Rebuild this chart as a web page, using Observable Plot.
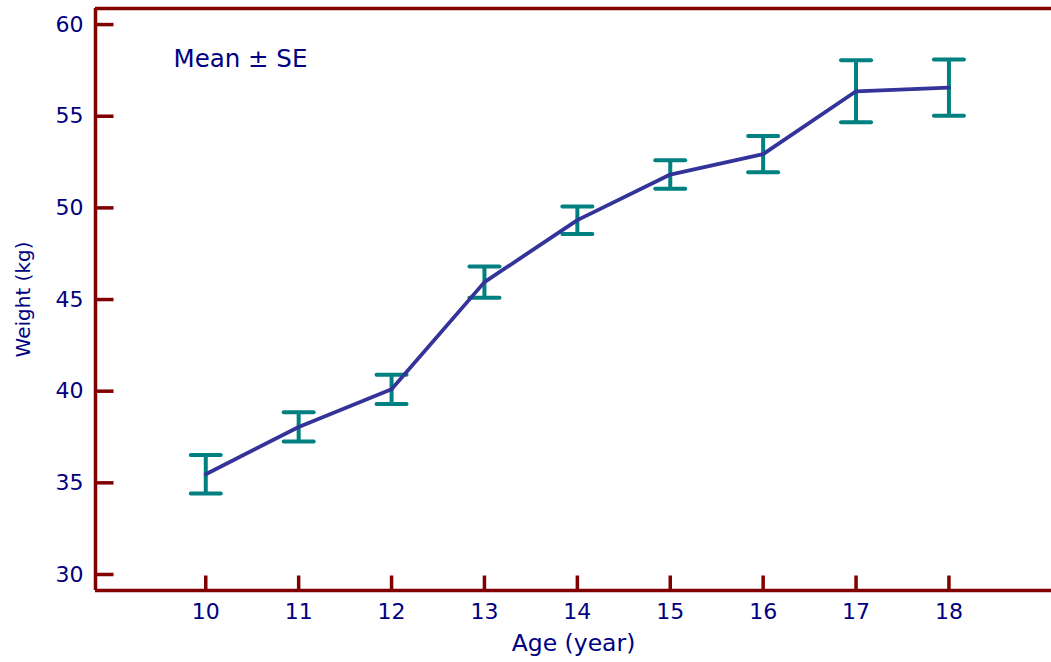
<!DOCTYPE html>
<html>
<head>
<meta charset="utf-8">
<script src="https://cdn.jsdelivr.net/npm/d3@7"></script>
<script src="https://cdn.jsdelivr.net/npm/@observablehq/plot@0.6"></script>
<style>
  html, body { margin: 0; padding: 0; background: #fff; }
</style>
</head>
<body>
<div id="chart"></div>
<script>
const ages = [10, 11, 12, 13, 14, 15, 16, 17, 18];
const means = [35.47, 38.05, 40.1, 45.95, 49.33, 51.82, 52.93, 56.36, 56.56];
const ses = [1.05, 0.8, 0.8, 0.85, 0.75, 0.78, 0.99, 1.69, 1.53];
const xTicks = [10, 11, 12, 13, 14, 15, 16, 17, 18];
const yTicks = [30, 35, 40, 45, 50, 55, 60];
const xDomain = [8.813, 19.104];
const yDomain = [29.127, 60.877];

const data = ages.map((a, i) => ({age: a, mean: means[i], se: ses[i]}));

const frameColor = "#800000";
const textColor = "#000080";
const barColor = "#008080";
const lineColor = "#333399";
const font = "'DejaVu Sans', 'Liberation Sans', Arial, sans-serif";

const vTick = {draw(ctx) { ctx.moveTo(0, 0); ctx.lineTo(0, -15); }};
const hTick = {draw(ctx) { ctx.moveTo(0, 0); ctx.lineTo(18, 0); }};
const cap = {draw(ctx) { ctx.moveTo(-15, 0); ctx.lineTo(15, 0); }};

const chart = Plot.plot({
  width: 1051,
  height: 662,
  marginLeft: 95,
  marginTop: 8,
  marginBottom: 72,
  marginRight: 0,
  style: {color: textColor, fontFamily: font, background: "#fff", overflow: "visible"},
  x: {domain: xDomain, axis: null},
  y: {domain: yDomain, axis: null},
  marks: [
    Plot.axisX({ticks: xTicks, tickSize: 0, tickPadding: 13, fontSize: 22, label: null, tickFormat: d => String(d)}),
    Plot.axisY({ticks: yTicks, tickSize: 0, tickPadding: 12, fontSize: 22, label: null, tickFormat: d => String(d)}),
    Plot.ruleX([xDomain[0]], {stroke: frameColor, strokeWidth: 3.5}),
    Plot.ruleY([yDomain[0], yDomain[1]], {stroke: frameColor, strokeWidth: 3.5}),
    Plot.dot(xTicks, {x: d => d, y: () => yDomain[0], symbol: vTick, r: 1, stroke: frameColor, strokeWidth: 3.5, fill: "none"}),
    Plot.dot(yTicks, {y: d => d, x: () => xDomain[0], symbol: hTick, r: 1, stroke: frameColor, strokeWidth: 3.5, fill: "none"}),
    Plot.ruleX(data, {x: "age", y1: d => d.mean - d.se, y2: d => d.mean + d.se, stroke: barColor, strokeWidth: 4}),
    Plot.dot(data, {x: "age", y: d => d.mean + d.se, symbol: cap, r: 1, stroke: barColor, strokeWidth: 4, strokeLinecap: "round", fill: "none"}),
    Plot.dot(data, {x: "age", y: d => d.mean - d.se, symbol: cap, r: 1, stroke: barColor, strokeWidth: 4, strokeLinecap: "round", fill: "none"}),
    Plot.line(data, {x: "age", y: "mean", stroke: lineColor, strokeWidth: 3.8}),
    Plot.text(["Mean \u00b1 SE"], {frameAnchor: "top-left", textAnchor: "start", lineAnchor: "middle", dx: 78, dy: 51, fontSize: 24.5, fill: textColor}),
    Plot.text(["Age (year)"], {frameAnchor: "bottom", lineAnchor: "middle", dy: 53, fontSize: 23.5, fill: textColor}),
    Plot.text(["Weight (kg)"], {frameAnchor: "left", textAnchor: "middle", lineAnchor: "middle", dx: -72, rotate: -90, fontSize: 20, fill: textColor})
  ]
});
document.getElementById("chart").appendChild(chart);
</script>
</body>
</html>
